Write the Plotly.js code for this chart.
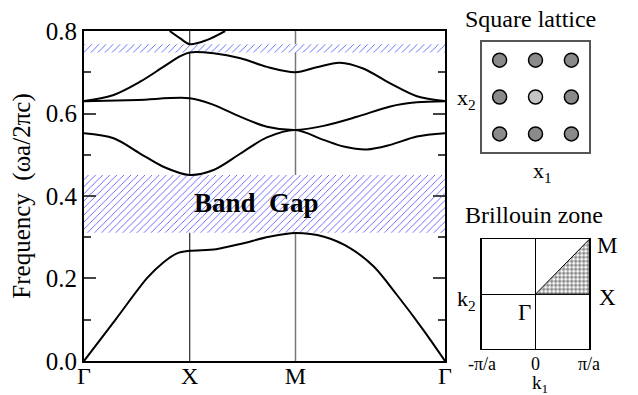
<!DOCTYPE html>
<html>
<head>
<meta charset="utf-8">
<script src="https://cdn.plot.ly/plotly-3.0.1.min.js"></script>
<style>
  body { margin: 0; background: #fff; }
  #myDiv { width: 638px; height: 395px; }
</style>
</head>
<body>
<div id="myDiv"></div>
<script>
// path coordinate: Gamma=0, X=1, M=2, Gamma=2+sqrt(2)
var pathVals = [0, 1, 2, 3.414];
var pathLabels = ['Γ', 'X', 'M', 'Γ'];

var band1K = [0, 0.3, 0.6, 0.75, 0.88, 1.0, 1.25, 1.5, 1.75, 2.0, 2.27, 2.52, 2.74, 2.96, 3.21, 3.414];
var band1F = [0, 0.101, 0.202, 0.239, 0.261, 0.267, 0.271, 0.285, 0.301, 0.310, 0.301, 0.273, 0.229, 0.160, 0.075, 0];

var band2K = [0, 0.28, 0.53, 0.75, 1.0, 1.225, 1.48, 1.73, 2.0, 2.265, 2.455, 2.676, 2.896, 3.148, 3.414];
var band2F = [0.552, 0.540, 0.503, 0.471, 0.451, 0.463, 0.503, 0.542, 0.560, 0.536, 0.520, 0.513, 0.524, 0.544, 0.552];

var band3K = [0, 0.51, 1.0, 1.225, 1.48, 1.73, 2.0, 2.265, 2.58, 2.896, 3.148, 3.414];
var band3F = [0.630, 0.633, 0.637, 0.621, 0.592, 0.568, 0.560, 0.570, 0.592, 0.617, 0.627, 0.630];

var band4K = [0, 0.28, 0.53, 0.75, 0.91, 1.0, 1.225, 1.48, 1.73, 2.0, 2.2, 2.42, 2.64, 2.896, 3.148, 3.414];
var band4F = [0.630, 0.645, 0.677, 0.713, 0.739, 0.748, 0.746, 0.734, 0.713, 0.700, 0.712, 0.723, 0.709, 0.673, 0.642, 0.630];

var band5K = [0.81, 0.91, 1.0, 1.16, 1.335];
var band5F = [0.80, 0.782, 0.768, 0.778, 0.80];

// photonic gaps (bottom, top)
var gapLow = [0.311, 0.748];
var gapHigh = [0.451, 0.768];

// square lattice rods
var rodX = [0.5, 1.5, 2.5, 0.5, 1.5, 2.5, 0.5, 1.5, 2.5];
var rodY = [0.5, 0.5, 0.5, 1.5, 1.5, 1.5, 2.5, 2.5, 2.5];

// irreducible zone corners: Gamma, X, M
var ibzX = [0, 1, 1, 0];
var ibzY = [0, 0, 1, 0];

// Brillouin zone k1 ticks
var bzTickVals = [-1, 0, 1];
var bzTickText = ['-π/a', '0', 'π/a'];

var serif = 'Liberation Serif, Times New Roman, serif';
var kEnd = pathVals[pathVals.length - 1];

function f(size) {
    return { family: serif, size: size, color: 'black' };
}

var traces = [];

gapLow.forEach(function (lo, i) {
    traces.push({
        type: 'scatter', mode: 'lines',
        x: [0, kEnd, kEnd, 0, 0],
        y: [lo, lo, gapHigh[i], gapHigh[i], lo],
        fill: 'toself',
        fillcolor: 'white',
        fillpattern: { shape: '/', fgcolor: '#4848ff', bgcolor: 'white', size: 5, solidity: 0.16 },
        line: { width: 0 },
        hoverinfo: 'skip', showlegend: false
    });
});

[[band1K, band1F], [band2K, band2F], [band3K, band3F], [band4K, band4F], [band5K, band5F]].forEach(function (b) {
    traces.push({
        type: 'scatter', mode: 'lines',
        x: b[0], y: b[1],
        line: { color: 'black', width: 2, shape: 'spline', smoothing: 0.9 },
        showlegend: false
    });
});

traces.push({
    type: 'scatter', mode: 'markers',
    x: rodX, y: rodY, xaxis: 'x2', yaxis: 'y2',
    marker: {
        size: 14,
        color: ['#8a8a8a', '#8a8a8a', '#8a8a8a', '#8a8a8a', '#c4c4c4', '#8a8a8a', '#8a8a8a', '#8a8a8a', '#8a8a8a'],
        line: { color: 'black', width: 1.5 }
    },
    showlegend: false
});

traces.push({
    type: 'scatter', mode: 'lines',
    x: ibzX, y: ibzY, xaxis: 'x3', yaxis: 'y3',
    fill: 'toself', fillcolor: 'white',
    fillpattern: { shape: '+', fgcolor: 'black', bgcolor: 'white', size: 4, solidity: 0.25 },
    line: { color: 'black', width: 1 },
    showlegend: false
});

var inset = {
    showline: true, mirror: true, linecolor: 'black', linewidth: 1.5,
    showgrid: false, zeroline: false, ticks: '', showticklabels: false, fixedrange: true
};

// labels round the two insets: text, centre x, centre y (pixels from top-left), size
var insetLabels = [
    ['Square lattice', 530, 19, 24],
    ['x<sub>2</sub>', 466, 99, 22],
    ['x<sub>1</sub>', 542, 172, 22],
    ['Brillouin zone', 534, 215, 24],
    ['M', 607, 245, 23],
    ['X', 607, 297, 23],
    ['Γ', 524, 312, 23],
    ['k<sub>2</sub>', 466, 300, 22],
    ['k<sub>1</sub>', 540, 384, 19]
];

var annotations = [
    { text: '<b>Band  Gap</b>', x: 1.63, y: 0.383, xref: 'x', yref: 'y', showarrow: false, font: f(27) }
];
insetLabels.forEach(function (l) {
    annotations.push({
        text: l[0], x: l[1] / 638, y: 1 - l[2] / 395, xref: 'paper', yref: 'paper',
        xanchor: 'center', yanchor: 'middle', showarrow: false, font: f(l[3])
    });
});
bzTickVals.forEach(function (v, i) {
    annotations.push({
        text: bzTickText[i], x: v, xref: 'x3', y: 1 - 364 / 395, yref: 'paper',
        xanchor: 'center', yanchor: 'middle', showarrow: false, font: f(18)
    });
});

var layout = {
    width: 638, height: 395,
    margin: { l: 0, r: 0, t: 0, b: 0 },
    paper_bgcolor: 'white', plot_bgcolor: 'white',
    font: f(22),
    xaxis: {
        domain: [0.1317, 0.6975], range: [0, kEnd],
        tickvals: pathVals, ticktext: pathLabels, ticks: '',
        showline: true, mirror: true, linecolor: 'black', linewidth: 2,
        showgrid: false, zeroline: false, tickfont: f(24), ticklabelstandoff: -8
    },
    yaxis: {
        domain: [0.0861, 0.9215], range: [0, 0.8],
        dtick: 0.2, tickformat: '.1f', ticks: 'inside', ticklen: 12, tickwidth: 2,
        minor: { dtick: 0.1, ticks: 'inside', ticklen: 7, tickwidth: 2 },
        showline: true, mirror: 'allticks', linecolor: 'black', linewidth: 2,
        showgrid: false, zeroline: false, tickfont: f(25),
        title: { text: 'Frequency  (ωa/2πc)', standoff: 8, font: f(25) }
    },
    xaxis2: Object.assign({}, inset, { domain: [0.755, 0.9237], range: [0, 3], anchor: 'y2', linecolor: '#555' }),
    yaxis2: Object.assign({}, inset, { domain: [0.6144, 0.8944], range: [0, 3], anchor: 'x2', linecolor: '#555' }),
    xaxis3: Object.assign({}, inset, {
        domain: [0.755, 0.9237], range: [-1, 1], anchor: 'y3',
        zeroline: true, zerolinecolor: 'black', zerolinewidth: 1
    }),
    yaxis3: Object.assign({}, inset, {
        domain: [0.1165, 0.3942], range: [-1, 1], anchor: 'x3',
        zeroline: true, zerolinecolor: 'black', zerolinewidth: 1
    }),
    shapes: [
        { type: 'line', xref: 'x', yref: 'y', x0: 1, x1: 1, y0: 0, y1: 0.8, layer: 'below', line: { color: 'black', width: 1 } },
        { type: 'line', xref: 'x', yref: 'y', x0: 2, x1: 2, y0: 0, y1: 0.8, layer: 'below', line: { color: '#777', width: 1.5 } }
    ],
    annotations: annotations
};

Plotly.newPlot('myDiv', traces, layout, { staticPlot: true });
</script>
</body>
</html>
